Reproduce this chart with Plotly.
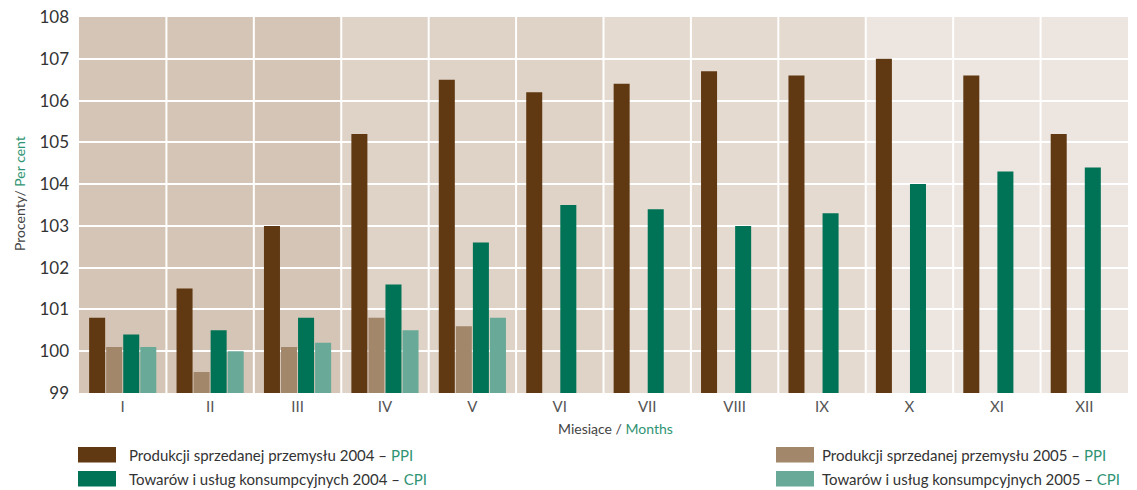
import plotly.graph_objects as go

months = ["I", "II", "III", "IV", "V", "VI", "VII", "VIII", "IX", "X", "XI", "XII"]
ppi_2004 = [100.8, 101.5, 103.0, 105.2, 106.5, 106.2, 106.4, 106.7, 106.6, 107.0, 106.6, 105.2]
ppi_2005 = [100.1, 99.5, 100.1, 100.8, 100.6, None, None, None, None, None, None, None]
cpi_2004 = [100.4, 100.5, 100.8, 101.6, 102.6, 103.5, 103.4, 103.0, 103.3, 104.0, 104.3, 104.4]
cpi_2005 = [100.1, 100.0, 100.2, 100.5, 100.8, None, None, None, None, None, None, None]
y_ticks = [99, 100, 101, 102, 103, 104, 105, 106, 107, 108]

GREEN_TXT = "#2f9473"
series = [
    ("Produkcji sprzedanej przemysłu 2004", "PPI", ppi_2004, "#603913"),
    ("Produkcji sprzedanej przemysłu 2005", "PPI", ppi_2005, "#a3876b"),
    ("Towarów i usług konsumpcyjnych 2004", "CPI", cpi_2004, "#007357"),
    ("Towarów i usług konsumpcyjnych 2005", "CPI", cpi_2005, "#69a998"),
]

FONT = "Lato, sans-serif"

fig = go.Figure()
for name, tag, vals, col in series:
    fig.add_trace(go.Bar(x=months, y=vals, name=name, marker=dict(color=col, line=dict(width=0)),
                         showlegend=False))

shapes = []
quarter_cols = ["#d5c5b6", "#dfd2c6", "#e5dad0", "#ede5df"]
for q, c in enumerate(quarter_cols):
    shapes.append(dict(type="rect", xref="x", yref="paper", x0=q * 3 - 0.5, x1=q * 3 + 2.5,
                       y0=0, y1=1, fillcolor=c, line=dict(width=0), layer="below"))
for i in range(1, len(months)):
    shapes.append(dict(type="line", xref="x", yref="paper", x0=i - 0.5, x1=i - 0.5, y0=0, y1=1,
                       line=dict(color="white", width=2), layer="below"))

annotations = []
W, H = 1137, 490
ml, mr, mt, mb = 79, 9, 17, 97
pw, ph = W - ml - mr, H - mt - mb


def px2paper(x, y):
    return (x - ml) / pw, (H - mb - y) / ph


sq_x = [78, 776]
txt_x = [127, 820]
row_y = [447, 471]
for (name, tag, vals, col), (ci, ri) in zip(series, [(0, 0), (1, 0), (0, 1), (1, 1)]):
    x0, y0 = px2paper(sq_x[ci], row_y[ri])
    x1, y1 = px2paper(sq_x[ci] + 38, row_y[ri] + 15.5)
    shapes.append(dict(type="rect", xref="paper", yref="paper", x0=x0, x1=x1, y0=y1, y1=y0,
                       fillcolor=col, line=dict(width=0)))
    tx, ty = px2paper(txt_x[ci], row_y[ri] + 8)
    annotations.append(dict(xref="paper", yref="paper", x=tx, y=ty, xanchor="left", yanchor="middle",
                            showarrow=False,
                            text=f"{name} – <span style='color:{GREEN_TXT}'>{tag}</span>",
                            font=dict(family=FONT, size=15, color="#333333")))

ax, ay = px2paper(19, 193)
annotations.append(dict(xref="paper", yref="paper", x=ax, y=ay, xanchor="center", yanchor="middle",
                        textangle=-90, showarrow=False,
                        text=f"Procenty/ <span style='color:{GREEN_TXT}'>Per cent</span>",
                        font=dict(family=FONT, size=14, color="#444444")))
mx, my = px2paper(615, 428)
annotations.append(dict(xref="paper", yref="paper", x=mx, y=my, xanchor="center", yanchor="middle",
                        showarrow=False,
                        text=f"Miesiące / <span style='color:{GREEN_TXT}'>Months</span>",
                        font=dict(family=FONT, size=14, color="#444444")))

fig.update_layout(
    width=W, height=H,
    margin=dict(l=ml, r=mr, t=mt, b=mb, autoexpand=False),
    paper_bgcolor="white", plot_bgcolor="white",
    barmode="group", bargap=0.22, bargroupgap=0.06,
    shapes=shapes, annotations=annotations,
    font=dict(family=FONT, color="#333333"),
    xaxis=dict(type="category", range=[-0.5, 11.5], showgrid=False, zeroline=False,
               tickfont=dict(family=FONT, size=15, color="#555555"), ticks="", ticklabelstandoff=3,
               automargin=False),
    yaxis=dict(range=[99, 108], tickvals=y_ticks, showgrid=True, gridcolor="white", gridwidth=2,
               zeroline=False, tickfont=dict(family=FONT, size=17, color="#333333"), ticks="",
               ticklabelstandoff=9, automargin=False),
)

fig.write_html("out.html", config={"displayModeBar": False},
               post_script="document.body.style.margin='0';document.body.style.overflow='hidden';")
